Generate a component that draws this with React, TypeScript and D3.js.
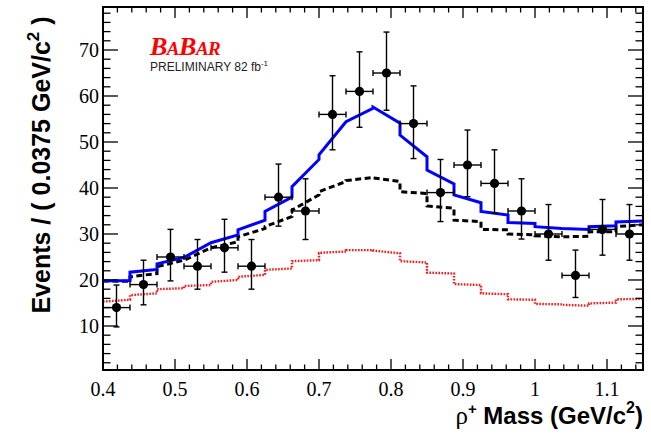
import React from "react";
import * as d3 from "d3";

// ---------- data ----------
const binEdgesStart = 0.4;
const binWidth = 0.0375;
const nBins = 20;

const counts = [14, 19, 25, 23, 27, 23, 38, 35, 56, 61, 65, 54, 39, 45, 41, 35, 30, 21, 31, 30];
const errHigh = [4.9, 5.3, 6.0, 5.8, 6.2, 5.8, 7.2, 7.0, 8.4, 8.6, 8.9, 8.2, 7.2, 7.6, 7.3, 7.0, 6.4, 5.5, 6.5, 6.4];
const errLow = [4.2, 4.4, 5.2, 5.0, 5.3, 5.0, 6.3, 6.2, 7.7, 7.8, 8.1, 7.6, 6.3, 6.9, 6.5, 6.1, 5.7, 4.8, 5.6, 5.7];

// curves: value at start and end of each bin
const totalStart = [19.8, 21.7, 23.5, 24.9, 28.1, 30.9, 34.9, 40.3, 47.2, 54.4, 57.6, 51.5, 43.9, 38.5, 34.9, 32.5, 31.6, 31.2, 31.6, 32.6];
const totalEnd = [19.9, 22.3, 24.9, 28.1, 29.8, 33.0, 38.0, 46.2, 54.4, 57.3, 54.1, 46.8, 40.9, 36.8, 34.1, 32.3, 31.2, 31.0, 31.8, 32.8];

const bkgStart = [19.8, 20.7, 22.9, 24.3, 27.0, 29.4, 31.6, 35.2, 39.2, 41.6, 42.2, 39.2, 36.1, 33.0, 31.0, 30.0, 29.6, 29.4, 30.5, 31.6];
const bkgEnd = [19.7, 21.4, 24.3, 27.0, 28.3, 31.2, 33.8, 38.5, 41.4, 42.3, 41.4, 38.8, 35.6, 32.7, 30.9, 29.8, 29.4, 29.5, 30.5, 32.0];

const compStart = [15.3, 16.7, 18.0, 18.7, 19.6, 20.7, 22.2, 24.1, 25.9, 26.5, 26.4, 24.1, 21.6, 19.1, 17.1, 15.8, 14.8, 14.6, 14.9, 15.8];
const compEnd = [15.7, 17.1, 18.2, 18.9, 20.0, 21.1, 22.5, 24.3, 26.2, 26.5, 25.8, 23.8, 21.4, 18.9, 16.9, 15.7, 14.7, 14.4, 15.1, 15.9];

const xMajorTicks = [0.4, 0.5, 0.6, 0.7, 0.8, 0.9, 1.0, 1.1];
const xTickLabels = ["0.4", "0.5", "0.6", "0.7", "0.8", "0.9", "1", "1.1"];
const yMajorTicks = [10, 20, 30, 40, 50, 60, 70];
const yTickLabels = ["10", "20", "30", "40", "50", "60", "70"];

// ---------- layout ----------
const W = 651;
const H = 435;
const L = 103, R = 643, T = 7, B = 370;

export default function App() {
  const x = d3.scaleLinear().domain([0.4, 1.15]).range([L, R]);
  const y = d3.scaleLinear().domain([0.43, 79.35]).range([B, T]);

  const edges = d3.range(nBins + 1).map((i) => binEdgesStart + i * binWidth);
  const centers = d3.range(nBins).map((i) => binEdgesStart + (i + 0.5) * binWidth);

  const curvePath = (s: number[], e: number[]) => {
    const pts: [number, number][] = [];
    for (let i = 0; i < nBins; i++) {
      pts.push([edges[i], s[i]]);
      pts.push([edges[i + 1], e[i]]);
    }
    return d3.line<[number, number]>().x((d) => x(d[0])).y((d) => y(d[1]))(pts) || "";
  };

  const xMinor = d3.range(0.4, 1.1501, 0.02).filter((v) => Math.abs(Math.round(v * 10) - v * 10) > 1e-6);
  const yMinor = d3.range(2, 79, 2).filter((v) => v % 10 !== 0);

  const xMajLen = 11, xMinLen = 5.5, yMajLen = 15, yMinLen = 7.5;

  const serif = "'Liberation Serif', 'Times New Roman', serif";
  const sans = "'Liberation Sans', Arial, Helvetica, sans-serif";

  return (
    <div>
      <style>{`body{margin:0}`}</style>
      <svg width={W} height={H} style={{ display: "block", background: "#fff" }}>
        {/* curves */}
        <path d={curvePath(compStart, compEnd)} fill="none" stroke="#ff1a1a" strokeWidth={2.4} strokeDasharray="1.6 1.4" />
        <path d={curvePath(bkgStart, bkgEnd)} fill="none" stroke="#000" strokeWidth={3} strokeDasharray="6 3.5" />
        <path d={curvePath(totalStart, totalEnd)} fill="none" stroke="#0000ff" strokeWidth={3} />

        {/* data points */}
        {counts.map((c, i) => {
          const cx = x(centers[i]);
          const cy = y(c);
          const x0 = x(edges[i]);
          const x1 = x(edges[i + 1]);
          const yt = y(c + errHigh[i]);
          const yb = y(c - errLow[i]);
          return (
            <g key={i} stroke="#000" strokeWidth={1.4}>
              <line x1={x0} x2={x1} y1={cy} y2={cy} />
              <line x1={cx} x2={cx} y1={yt} y2={yb} />
              <line x1={x0} x2={x0} y1={cy - 3} y2={cy + 3} />
              <line x1={x1} x2={x1} y1={cy - 3} y2={cy + 3} />
              <line x1={cx - 3} x2={cx + 3} y1={yt} y2={yt} />
              <line x1={cx - 3} x2={cx + 3} y1={yb} y2={yb} />
              <circle cx={cx} cy={cy} r={4.6} fill="#000" stroke="none" />
            </g>
          );
        })}

        {/* frame */}
        <rect x={L} y={T} width={R - L} height={B - T} fill="none" stroke="#000" strokeWidth={2} />

        {/* ticks */}
        <g stroke="#000" strokeWidth={1.3}>
          {xMajorTicks.map((v) => (
            <g key={"xm" + v}>
              <line x1={x(v)} x2={x(v)} y1={B} y2={B - xMajLen} />
              <line x1={x(v)} x2={x(v)} y1={T} y2={T + xMajLen} />
            </g>
          ))}
          {xMinor.map((v) => (
            <g key={"xn" + v}>
              <line x1={x(v)} x2={x(v)} y1={B} y2={B - xMinLen} />
              <line x1={x(v)} x2={x(v)} y1={T} y2={T + xMinLen} />
            </g>
          ))}
          {yMajorTicks.map((v) => (
            <g key={"ym" + v}>
              <line x1={L} x2={L + yMajLen} y1={y(v)} y2={y(v)} />
              <line x1={R} x2={R - yMajLen} y1={y(v)} y2={y(v)} />
            </g>
          ))}
          {yMinor.map((v) => (
            <g key={"yn" + v}>
              <line x1={L} x2={L + yMinLen} y1={y(v)} y2={y(v)} />
              <line x1={R} x2={R - yMinLen} y1={y(v)} y2={y(v)} />
            </g>
          ))}
        </g>

        {/* tick labels */}
        <g fontFamily={serif} fontSize={20} fill="#000">
          {xMajorTicks.map((v, i) => (
            <text key={"xl" + v} x={x(v)} y={396} textAnchor="middle">
              {xTickLabels[i]}
            </text>
          ))}
          {yMajorTicks.map((v, i) => (
            <text key={"yl" + v} x={99} y={y(v) + 7} textAnchor="end">
              {yTickLabels[i]}
            </text>
          ))}
        </g>

        {/* axis titles */}
        <text
          transform="translate(50,165) rotate(-90)"
          textAnchor="middle"
          fontFamily={sans}
          fontWeight="bold"
          fontSize={25}
          fill="#000"
        >
          Events / ( 0.0375 GeV/c
          <tspan dy={-11} fontSize={17}>2</tspan>
          <tspan dy={11}> )</tspan>
        </text>
        <text x={643} y={424} textAnchor="end" fontFamily={sans} fontSize={24} fill="#000">
          <tspan fontFamily={serif} fontSize={25}>ρ</tspan>
          <tspan dy={-10} fontSize={15} fontWeight="bold">+</tspan>
          <tspan dy={10} fontWeight="bold"> Mass (GeV/c</tspan>
          <tspan dy={-11} fontSize={16} fontWeight="bold">2</tspan>
          <tspan dy={11} fontWeight="bold">)</tspan>
        </text>

        {/* logo */}
        <text x={150} y={55} fontFamily={serif} fontStyle="italic" fontWeight="bold" fill="#ff0000" letterSpacing={-0.5}>
          <tspan fontSize={26}>B</tspan>
          <tspan fontSize={19}>A</tspan>
          <tspan fontSize={26}>B</tspan>
          <tspan fontSize={19}>AR</tspan>
        </text>
        <text x={150} y={71} fontFamily={sans} fontSize={12} fill="#222">
          PRELIMINARY 82 fb
          <tspan dy={-5} fontSize={8}>-1</tspan>
        </text>
      </svg>
    </div>
  );
}
